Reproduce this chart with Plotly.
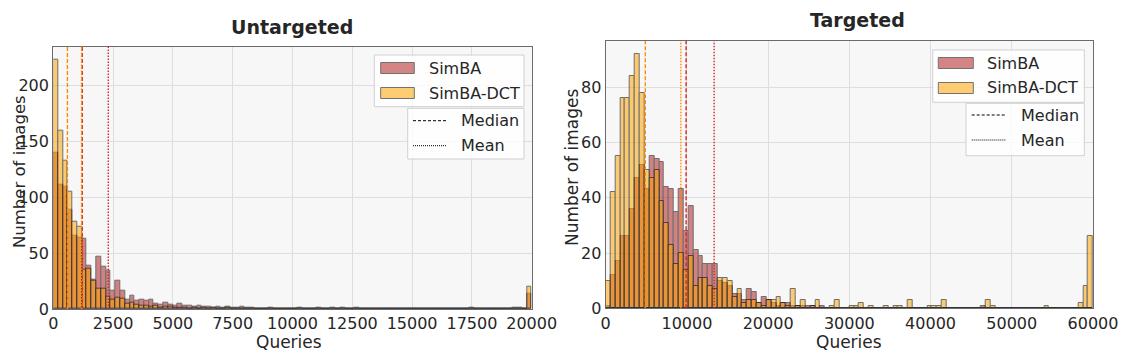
import plotly.graph_objects as go

# page body has an 8px margin; draw in a slightly smaller figure and offset coordinates
OFF = 8
W, H = 1132 - OFF, 358 - OFF

# ---------------- data ----------------
SERIES = ["SimBA", "SimBA-DCT"]

# Untargeted: histogram bins of 200 queries from 0 to 20000
UNT_BIN_START = 0
UNT_BIN_WIDTH = 200
UNT_SIMBA = [
    140, 111, 110, 89, 66, 64, 63, 39, 26, 47,
    38, 34, 16, 25, 16, 8, 12, 7, 8, 7,
    8, 5, 4, 6, 4, 3, 5, 3, 3, 2,
    3, 2, 2, 1, 2, 1, 2, 1, 1, 2,
    1, 1, 0, 0, 0, 1, 0, 0, 0, 0,
    0, 1, 0, 0, 0, 1, 0, 0, 1, 0,
    1, 0, 0, 1, 0, 0, 0, 0, 0, 0,
    0, 0, 0, 0, 0, 0, 0, 0, 0, 0,
    0, 0, 0, 0, 0, 0, 0, 1, 0, 0,
    0, 0, 0, 0, 0, 0, 1, 1, 0, 14,
]
UNT_DCT = [
    223, 160, 133, 105, 78, 74, 35, 36, 25, 18,
    18, 11, 8, 10, 9, 5, 6, 4, 3, 3,
    2, 3, 1, 2, 2, 1, 1, 1, 0, 1,
    0, 1, 0, 1, 0, 0, 1, 0, 0, 0,
    0, 0, 0, 0, 0, 0, 0, 0, 0, 0,
    0, 0, 0, 0, 0, 0, 0, 0, 0, 0,
    0, 0, 0, 0, 0, 0, 0, 0, 0, 0,
    0, 0, 0, 0, 0, 0, 0, 0, 0, 0,
    0, 0, 0, 0, 0, 0, 0, 0, 0, 0,
    0, 0, 0, 0, 0, 0, 0, 0, 0, 20,
]
UNT_MEDIANS = [1210, 590]   # SimBA, SimBA-DCT
UNT_MEANS = [2300, 1180]

# Targeted: histogram bins of 600 queries from 0 to 60000
TGT_BIN_START = 0
TGT_BIN_WIDTH = 600
TGT_SIMBA = [
    1, 12, 17, 26, 26, 36, 47, 52, 43, 55,
    54, 53, 44, 43, 35, 43, 28, 37, 21, 19,
    16, 16, 16, 10, 9, 8, 5, 5, 3, 7,
    6, 2, 4, 3, 2, 1, 2, 2, 1, 1,
    1, 1, 1, 0, 1, 0, 0, 0, 0, 0,
    0, 0, 0, 0, 0, 0, 0, 0, 0, 0,
    0, 0, 0, 0, 0, 0, 0, 0, 0, 0,
    0, 0, 0, 0, 0, 0, 0, 1, 0, 0,
    0, 0, 0, 0, 0, 0, 0, 0, 0, 0,
    0, 0, 0, 0, 0, 0, 0, 0, 0, 0,
]
TGT_DCT = [
    10, 42, 55, 76, 76, 84, 92, 78, 50, 47,
    50, 39, 31, 23, 16, 20, 14, 19, 8, 11,
    11, 8, 7, 11, 11, 10, 4, 7, 2, 3,
    3, 2, 1, 3, 3, 4, 2, 1, 7, 1,
    3, 0, 1, 3, 0, 0, 1, 3, 0, 0,
    1, 1, 2, 0, 1, 0, 0, 1, 0, 1,
    1, 0, 3, 0, 0, 0, 1, 1, 1, 3,
    0, 0, 0, 0, 0, 0, 0, 0, 3, 1,
    0, 0, 0, 0, 0, 0, 0, 0, 0, 0,
    1, 0, 0, 0, 0, 0, 0, 2, 8, 26,
]
TGT_MEDIANS = [9900, 4880]
TGT_MEANS = [13350, 9250]

UNT_XTICKS = [0, 2500, 5000, 7500, 10000, 12500, 15000, 17500, 20000]
UNT_YTICKS = [0, 50, 100, 150, 200]
TGT_XTICKS = [0, 10000, 20000, 30000, 40000, 50000, 60000]
TGT_YTICKS = [0, 20, 40, 60, 80]

# ---------------- styling ----------------
FONT = "DejaVu Sans"
TXT = "#262626"
BAR_COLORS = ["#b22222", "#ffa500"]
BAR_ALPHA = 0.55
LINE_COLORS = ["#d62728", "#ff8c00"]
PLOT_BG = "#f7f7f7"
GRID = "#dedede"
SPINE = "#6b6b6b"


def px(x):
    return (x - OFF) / W


def py(y):
    return 1 - (y - OFF) / H


def centers(start, width, counts):
    return [start + (i + 0.5) * width for i in range(len(counts))]


fig = go.Figure()

panels = [
    dict(xa="x", ya="y", start=UNT_BIN_START, width=UNT_BIN_WIDTH,
         data=[UNT_SIMBA, UNT_DCT], med=UNT_MEDIANS, mean=UNT_MEANS),
    dict(xa="x2", ya="y2", start=TGT_BIN_START, width=TGT_BIN_WIDTH,
         data=[TGT_SIMBA, TGT_DCT], med=TGT_MEDIANS, mean=TGT_MEANS),
]

shapes = []
for p in panels:
    for name, counts, col in zip(SERIES, p["data"], BAR_COLORS):
        fig.add_trace(go.Bar(
            x=centers(p["start"], p["width"], counts), y=counts,
            width=p["width"], name=name, showlegend=False,
            xaxis=p["xa"], yaxis=p["ya"],
            marker=dict(color=col, line=dict(color="black", width=1)),
            opacity=BAR_ALPHA,
        ))
    for i in range(2):
        shapes.append(dict(type="line", xref=p["xa"], yref=p["ya"] + " domain",
                           x0=p["med"][i], x1=p["med"][i], y0=0, y1=1,
                           line=dict(color=LINE_COLORS[i], width=1.4, dash="4px,2px")))
        shapes.append(dict(type="line", xref=p["xa"], yref=p["ya"] + " domain",
                           x0=p["mean"][i], x1=p["mean"][i], y0=0, y1=1,
                           line=dict(color=LINE_COLORS[i], width=1.4, dash="1.5px,1.5px")))

axis_common = dict(showgrid=True, gridcolor=GRID, gridwidth=1, zeroline=False,
                   showline=True, mirror=True, linecolor=SPINE, linewidth=1.3,
                   ticks="", automargin=False,
                   tickfont=dict(family=FONT, size=16, color=TXT))


def labels(vals):
    return [str(v) for v in vals]


fig.update_layout(
    width=W, height=H, margin=dict(l=0, r=0, t=0, b=0, autoexpand=False),
    paper_bgcolor="white", plot_bgcolor=PLOT_BG,
    barmode="overlay", bargap=0,
    font=dict(family=FONT, color=TXT),
    xaxis=dict(domain=[px(53.3), px(531.7)], range=[0, 20000], tickvals=UNT_XTICKS,
               ticktext=labels(UNT_XTICKS), anchor="y", **axis_common),
    yaxis=dict(domain=[py(309), py(46.7)], range=[0, 235], tickvals=UNT_YTICKS,
               ticktext=labels(UNT_YTICKS), anchor="x", **axis_common),
    xaxis2=dict(domain=[px(605.7), px(1093)], range=[0, 60000], tickvals=TGT_XTICKS,
                ticktext=labels(TGT_XTICKS), anchor="y2", **axis_common),
    yaxis2=dict(domain=[py(308.3), py(41)], range=[0, 96.7], tickvals=TGT_YTICKS,
                ticktext=labels(TGT_YTICKS), anchor="x2", **axis_common),
)

annotations = []


def text(x, y, s, size=16, bold=False, angle=0, xanchor="center"):
    annotations.append(dict(
        x=px(x), y=py(y), xref="paper", yref="paper", showarrow=False,
        text=f"<b>{s}</b>" if bold else s, textangle=angle,
        xanchor=xanchor, yanchor="middle",
        font=dict(family=FONT, size=size, color=TXT)))


text(292, 27, "Untargeted", size=19, bold=True)
text(857, 20, "Targeted", size=19, bold=True)
text(289, 342, "Queries", size=17)
text(849, 342, "Queries", size=17)
text(19, 172, "Number of images", size=16.5, angle=-90)
text(572, 168, "Number of images", size=17, angle=-90)


def legend(box1, box2, patch_x, rows1, txt1_x, line_x, rows2, txt2_x):
    for (x0, y0, x1, y1) in (box1, box2):
        shapes.append(dict(type="rect", xref="paper", yref="paper",
                           x0=px(x0), x1=px(x1), y0=py(y1), y1=py(y0),
                           fillcolor="rgba(255,255,255,0.8)",
                           line=dict(color="#d0d0d0", width=1)))
    for name, col, yc in zip(SERIES, BAR_COLORS, rows1):
        shapes.append(dict(type="rect", xref="paper", yref="paper",
                           x0=px(patch_x[0]), x1=px(patch_x[1]),
                           y0=py(yc + 5.5), y1=py(yc - 5.5),
                           fillcolor=col, opacity=BAR_ALPHA,
                           line=dict(color="black", width=1)))
        text(txt1_x, yc, name, xanchor="left")
    for name, dash, yc in zip(["Median", "Mean"], ["3px,2px", "1px,1px"], rows2):
        shapes.append(dict(type="line", xref="paper", yref="paper",
                           x0=px(line_x[0]), x1=px(line_x[1]), y0=py(yc), y1=py(yc),
                           line=dict(color="black", width=1, dash=dash)))
        text(txt2_x, yc, name, xanchor="left")


legend((374.3, 55, 524, 106.7), (407.7, 108.3, 524, 159),
       (380.7, 414.3), (68, 93), 426.7, (413, 447), (120.7, 145.7), 459.3)
legend((932.7, 50, 1084.3, 102.3), (966, 103.3, 1084.3, 155.7),
       (938.3, 973.3), (63, 88), 985, (971.7, 1006), (115, 140), 1019.3)

fig.update_layout(shapes=shapes, annotations=annotations)
fig.write_html("out.html")
